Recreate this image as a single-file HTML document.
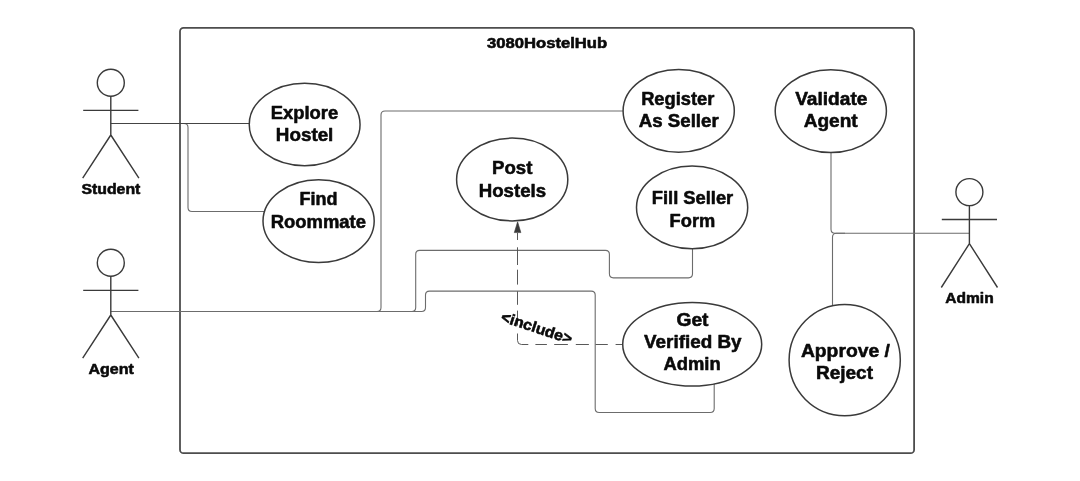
<!DOCTYPE html>
<html lang="en">
<head>
<meta charset="utf-8">
<title>3080HostelHub Use Case Diagram</title>
<style>
html,body{margin:0;padding:0;background:#fff;}
body{width:1080px;height:481px;overflow:hidden;}
svg{display:block;filter:grayscale(1);}
text{font-family:"Liberation Sans",Arial,sans-serif;font-weight:bold;fill:#0a0a0a;stroke:#0a0a0a;stroke-width:0.55;stroke-linejoin:round;}
.uc{font-size:18px;text-anchor:middle;}
.lbl{font-size:14.6px;text-anchor:middle;}
.title{font-size:14px;text-anchor:middle;}
.inc{font-size:15px;text-anchor:middle;}
.shape{fill:#fff;stroke:#3a3a3a;stroke-width:1.5;}
.actor{fill:none;stroke:#3a3a3a;stroke-width:1.4;}
.conn{fill:none;stroke:#6c6c6c;stroke-width:1.1;}
.dark{fill:none;stroke:#444;stroke-width:1.1;}
.dash{fill:none;stroke:#505050;stroke-width:0.95;}
</style>
</head>
<body>
<svg width="1080" height="481" viewBox="0 0 1080 481">
<rect x="0" y="0" width="1080" height="481" fill="#ffffff"/>

<!-- system boundary -->
<rect x="180" y="27.9" width="734.1" height="425.3" rx="3.5" ry="3.5" fill="#fff" stroke="#4d4d4d" stroke-width="1.8"/>
<text class="title" x="547.1" y="47.6" textLength="120" lengthAdjust="spacingAndGlyphs">3080HostelHub</text>

<!-- connectors -->
<g class="conn">
  <!-- student -> find roommate -->
  <path d="M170,123.5 L184.0,123.5 Q188,123.5 188.0,127.5 L188.0,207.5 Q188,211.5 192.0,211.5 L265,211.5"/>
  <!-- agent -> register as seller -->
  <path d="M110.8,311.5 L377.0,311.5 Q381,311.5 381.0,307.5 L381.0,115.0 Q381,111.0 385.0,111.0 L623,111.0"/>
  <!-- agent -> fill seller form -->
  <path d="M370,311.5 L411.7,311.5 Q415.7,311.5 415.7,307.5 L415.7,254.35 Q415.7,250.35 419.7,250.35 L605.4,250.35 Q609.4,250.35 609.4,254.35 L609.4,273.85 Q609.4,277.85 613.4,277.85 L688.5,277.85 Q692.5,277.85 692.5,273.85 L692.5,248.5"/>
  <!-- agent -> get verified -->
  <path d="M405,311.5 L421.5,311.5 Q425.5,311.5 425.5,307.5 L425.5,295.1 Q425.5,291.1 429.5,291.1 L591.2,291.1 Q595.2,291.1 595.2,295.1 L595.2,408.5 Q595.2,412.5 599.2,412.5 L710.2,412.5 Q714.2,412.5 714.2,408.5 L714.2,383.5"/>
  <!-- admin -> validate agent -->
  <path d="M969.4,233.2 L835.0,233.2 Q831,233.2 831.0,229.2 L831,152"/>
  <!-- admin -> approve / reject -->
  <path d="M845,233.2 L836.5,233.2 Q832.5,233.2 832.5,237.2 L832.5,305.5"/>
</g>
<!-- student -> explore hostel -->
<path class="dark" d="M110.6,123.5 H249"/>

<!-- include (dashed) -->
<g class="dash">
  <path d="M517.5,233 V240"/>
  <path d="M517.5,247.3 V265"/>
  <path d="M517.5,269.7 V284.6"/>
  <path d="M517.5,291.3 V304.8"/>
  <path d="M517.5,310.6 V325.5"/>
  <path d="M517.5,333.5 V340.5 Q517.5,344.5 521.5,344.5 H528.3"/>
  <path d="M535.4,344.5 H546.9"/>
  <path d="M554.2,344.5 H567.9"/>
  <path d="M575.8,344.5 H588.9"/>
  <path d="M595.6,344.5 H607.8"/>
  <path d="M615.6,344.5 H622.7"/>
</g>
<path d="M517.6,221.8 L520.9,232.6 H514.3 Z" fill="#3a3a3a" stroke="#3a3a3a" stroke-width="0.6" stroke-linejoin="round"/>

<!-- use cases -->
<ellipse class="shape" cx="304.65" cy="124.5" rx="55.4" ry="41.2"/>
<text class="uc" x="304.5" y="119.1" textLength="67.5" lengthAdjust="spacingAndGlyphs">Explore</text>
<text class="uc" x="304.6" y="141.1" textLength="57.5" lengthAdjust="spacingAndGlyphs">Hostel</text>

<ellipse class="shape" cx="318.6" cy="221.1" rx="55.6" ry="41.4"/>
<text class="uc" x="318.4" y="205.1" textLength="38.0" lengthAdjust="spacingAndGlyphs">Find</text>
<text class="uc" x="318.3" y="227.9" textLength="95.2" lengthAdjust="spacingAndGlyphs">Roommate</text>

<ellipse class="shape" cx="512.2" cy="179.5" rx="55.6" ry="41.4"/>
<text class="uc" x="512.2" y="173.7" textLength="40.3" lengthAdjust="spacingAndGlyphs">Post</text>
<text class="uc" x="512.4" y="196.7" textLength="67.3" lengthAdjust="spacingAndGlyphs">Hostels</text>

<ellipse class="shape" cx="678.7" cy="110.9" rx="55.6" ry="41.4"/>
<text class="uc" x="677.8" y="104.9" textLength="73.3" lengthAdjust="spacingAndGlyphs">Register</text>
<text class="uc" x="678.7" y="127" textLength="79.9" lengthAdjust="spacingAndGlyphs">As Seller</text>

<ellipse class="shape" cx="830.8" cy="111.1" rx="55.6" ry="41.4"/>
<text class="uc" x="831.3" y="104.9" textLength="72.3" lengthAdjust="spacingAndGlyphs">Validate</text>
<text class="uc" x="830.7" y="127" textLength="54.0" lengthAdjust="spacingAndGlyphs">Agent</text>

<ellipse class="shape" cx="692.1" cy="207.4" rx="55.6" ry="41.4"/>
<text class="uc" x="692.5" y="204.2" textLength="81.5" lengthAdjust="spacingAndGlyphs">Fill Seller</text>
<text class="uc" x="692.4" y="226.6" textLength="45.6" lengthAdjust="spacingAndGlyphs">Form</text>

<ellipse class="shape" cx="692.2" cy="344.3" rx="69.5" ry="41.7"/>
<text class="uc" x="692.5" y="325.7" textLength="32.0" lengthAdjust="spacingAndGlyphs">Get</text>
<text class="uc" x="692.8" y="348.1" textLength="97.5" lengthAdjust="spacingAndGlyphs">Verified By</text>
<text class="uc" x="692.1" y="370.3" textLength="57.2" lengthAdjust="spacingAndGlyphs">Admin</text>

<circle class="shape" cx="844.7" cy="360.1" r="55.6"/>
<text class="uc" x="845.4" y="357" textLength="89.0" lengthAdjust="spacingAndGlyphs">Approve /</text>
<text class="uc" x="844.5" y="378.8" textLength="57.0" lengthAdjust="spacingAndGlyphs">Reject</text>

<!-- include label -->
<text class="inc" transform="translate(536.5,328.2) rotate(18)" x="0" y="4.6" textLength="74" lengthAdjust="spacingAndGlyphs">&lt;include&gt;</text>

<!-- actors -->
<g class="actor">
  <circle cx="110.8" cy="82.7" r="13.5"/>
  <path d="M110.8,96.2 V135.0 M83.2,110.35 H138.4 M110.8,135.0 L82.7,178.2 M110.8,135.0 L138.9,178.2"/>
  <circle cx="110.8" cy="262.7" r="13.5"/>
  <path d="M110.8,276.2 V315.0 M83.2,290.35 H138.4 M110.8,315.0 L82.7,358.2 M110.8,315.0 L138.9,358.2"/>
  <circle cx="969.4" cy="192.1" r="13.5"/>
  <path d="M969.4,205.6 V243.6 M941.8,219.45 H997.0 M969.4,243.6 L941.3,287.5 M969.4,243.6 L997.5,287.5"/>
</g>
<text class="lbl" x="110.9" y="193.5" textLength="59" lengthAdjust="spacingAndGlyphs">Student</text>
<text class="lbl" x="111.2" y="373.5" textLength="45.4" lengthAdjust="spacingAndGlyphs">Agent</text>
<text class="lbl" x="969.5" y="302.7" textLength="48.4" lengthAdjust="spacingAndGlyphs">Admin</text>
</svg>
</body>
</html>
